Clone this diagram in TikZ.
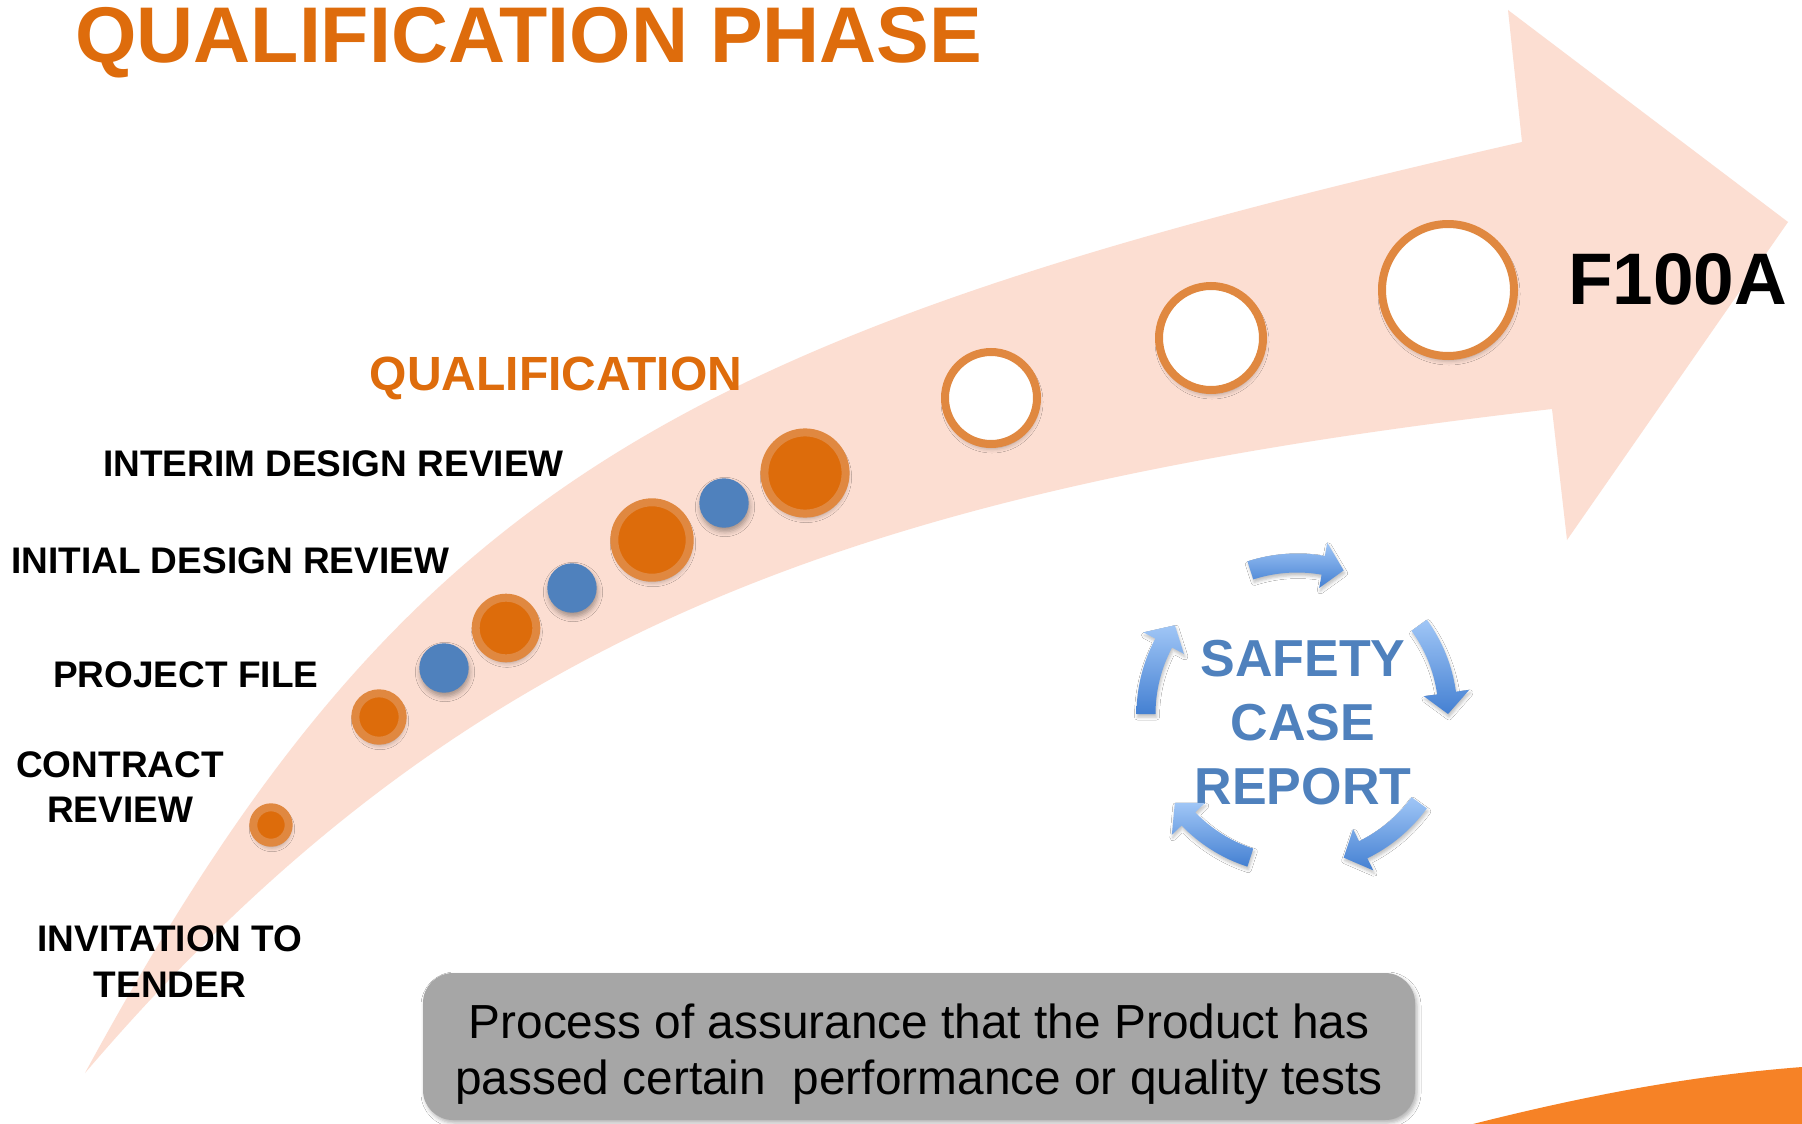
\documentclass[tikz,border=0pt]{standalone}
\usepackage{fontspec}
\setmainfont{Liberation Sans}
\usetikzlibrary{shadows.blur}

\definecolor{bandpink}{RGB}{252,222,210}
\definecolor{titleorange}{RGB}{222,108,12}
\definecolor{dotring}{RGB}{224,136,64}
\definecolor{dotcore}{RGB}{221,108,11}
\definecolor{dotblue}{RGB}{79,129,189}
\definecolor{boxgray}{RGB}{166,166,166}
\definecolor{cornerorange}{RGB}{246,130,38}
\definecolor{cyclelight}{RGB}{160,198,246}
\definecolor{cycledark}{RGB}{68,128,210}

\tikzset{
  softshadow/.style={blur shadow={shadow xshift=1pt, shadow yshift=-4pt,
      shadow blur radius=5pt, shadow opacity=35}},
  orangedot/.style={circle, inner sep=0pt, fill=dotcore, draw=dotring,
      line width=8pt, softshadow},
  bluedot/.style={circle, inner sep=0pt, fill=dotblue, softshadow},
  hollowdot/.style={circle, inner sep=0pt, fill=white, draw=dotring,
      line width=8pt, softshadow},
  lab/.style={inner sep=0pt, text=black,
      font=\fontsize{37}{44}\selectfont\bfseries},
  bigtitle/.style={inner sep=0pt, text=titleorange,
      font=\fontsize{79}{95}\selectfont\bfseries},
  stagelab/.style={inner sep=0pt, text=titleorange,
      font=\fontsize{48}{58}\selectfont\bfseries},
  endlab/.style={inner sep=0pt, text=black,
      font=\fontsize{73}{88}\selectfont\bfseries},
  cyclelab/.style={inner sep=0pt, text=dotblue,
      font=\fontsize{52}{64}\selectfont\bfseries},
  boxtext/.style={inner sep=0pt, text=black,
      font=\fontsize{47.8}{57}\selectfont},
  infobox/.style={rectangle, rounded corners=30pt, fill=boxgray,
      inner sep=0pt, minimum width=992pt, minimum height=147pt,
      blur shadow={shadow xshift=2pt, shadow yshift=-3pt,
      shadow blur radius=4pt, shadow opacity=30}},
}

\begin{document}
\begin{tikzpicture}[x=1pt, y=-1pt]
\useasboundingbox (0,0) rectangle (1802,1124);
\fill[white] (0,0) rectangle (1802,1124);

% curved progress arrow
\fill[bandpink]
  (85,1073) .. controls (403,488) and (671,336) .. (1522,142)
  -- (1508,10) -- (1788,222) -- (1567,540) -- (1552,409)
  .. controls (854,489) and (461,633) .. (85,1073)
  -- cycle;

% corner accent
\fill[cornerorange] (1473,1124) .. controls (1600,1092) and (1700,1075) ..
  (1802,1067) -- (1802,1124) -- cycle;

% milestones along the arrow
\node[orangedot, minimum size=35.4pt] (m1) at (271,825) {};
\node[orangedot, minimum size=47.4pt] (m2) at (379,717) {};
\node[bluedot,   minimum size=49.4pt] (m3) at (444,668) {};
\node[orangedot, minimum size=60.6pt] (m4) at (506,628) {};
\node[bluedot,   minimum size=49.4pt] (m5) at (572,588) {};
\node[orangedot, minimum size=75.4pt] (m6) at (652,540) {};
\node[bluedot,   minimum size=49.4pt] (m7) at (724,503) {};
\node[orangedot, minimum size=81.2pt] (m8) at (805,473) {};
\node[hollowdot, minimum size=92pt]   (m9) at (991,398) {};
\node[hollowdot, minimum size=104pt]  (m10) at (1211,338) {};
\node[hollowdot, minimum size=132pt]  (m11) at (1448,290) {};

% headings and stage labels
\node[bigtitle, anchor=base west] (title) at (75,63) {QUALIFICATION PHASE};
\node[stagelab, anchor=base] (qual) at (556,390) {QUALIFICATION};
\node[lab, anchor=base west] (interim) at (103,476) {INTERIM DESIGN REVIEW};
\node[lab, anchor=base west] (initial) at (11,573) {INITIAL DESIGN REVIEW};
\node[lab, anchor=base west] (pfile) at (53,687) {PROJECT FILE};
\node[lab, anchor=base] (contract) at (120,777) {CONTRACT};
\node[lab, anchor=base] (contractb) at (120,822) {REVIEW};
\node[lab, anchor=base] (itt) at (170,951) {INVITATION TO};
\node[lab, anchor=base] (ittb) at (170,997) {TENDER};
\node[endlab, anchor=base west] (final) at (1568,304) {F100A};

% description box
\node[infobox] (desc) at (919,1046.5) {};
\node[boxtext, anchor=base] (descA) at (919,1038)
  {Process of assurance that the Product has};
\node[boxtext, anchor=base] (descB) at (919,1094)
  {passed certain~ performance or quality tests};

% safety case cycle
\node[cyclelab, anchor=base] (scA) at (1303,676) {SAFETY};
\node[cyclelab, anchor=base] (scB) at (1303,740) {CASE};
\node[cyclelab, anchor=base] (scC) at (1303,804) {REPORT};

\begin{scope}[shift={(1297,714)}]
  \foreach \k in {0,...,4} {
    \pgfmathsetmacro\aone{-108+72*\k}
    \pgfmathsetmacro\atwo{-72+72*\k}
    \pgfmathsetmacro\abase{\atwo-8}
    \shade[top color=cyclelight, bottom color=cycledark,
           blur shadow={shadow xshift=1pt, shadow yshift=-3pt,
           shadow blur radius=3pt, shadow opacity=25}]
      (\aone:160.5) arc[start angle=\aone, end angle=\abase, radius=160.5]
      -- (\abase:174) -- (\atwo:151) -- (\abase:128) -- (\abase:141.5)
      arc[start angle=\abase, end angle=\aone, radius=141.5] -- cycle;
  }
\end{scope}
\end{tikzpicture}
\end{document}
